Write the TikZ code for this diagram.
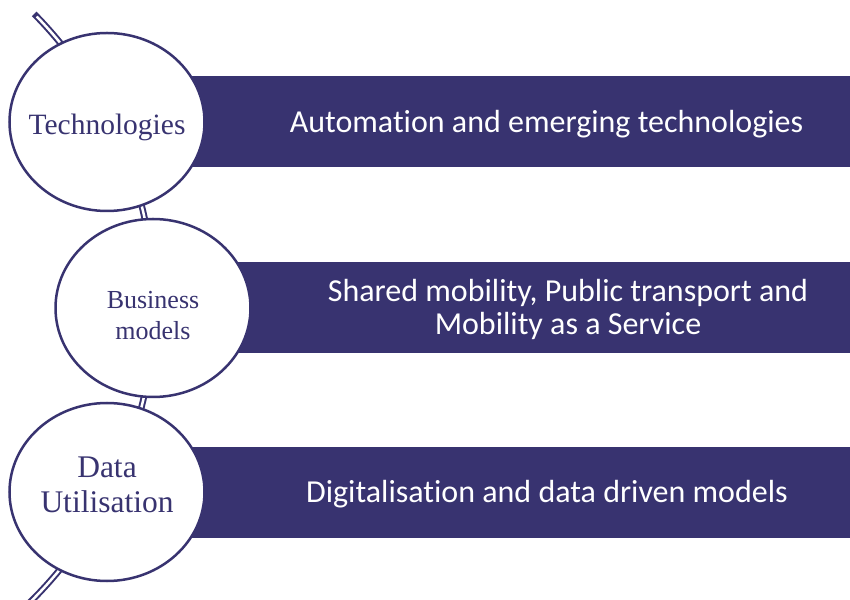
\documentclass[tikz,border=0pt]{standalone}
\usepackage{fontspec}
\setmainfont{Liberation Serif}
\newfontfamily\barfont[Ligatures=NoCommon]{Carlito}
\usetikzlibrary{shapes.geometric}
\definecolor{navy}{RGB}{56,51,112}

\begin{document}
\begin{tikzpicture}[x=1pt, y=1pt,
    topic/.style={draw=navy, line width=2.5pt, fill=white, ellipse, minimum width=195pt, minimum height=178pt, inner sep=0pt},
    topictext/.style={text=navy, align=center, inner sep=0pt},
    bar/.style={fill=navy, rectangle, minimum height=91pt, inner sep=0pt, anchor=west},
    bartext/.style={text=white, align=center, font=\barfont\fontsize{32}{33}\selectfont}]
        % Area del disegno
        \useasboundingbox (0,0) rectangle (850,599);
        \clip (0,0) rectangle (850,599);

        % Linea doppia di sfondo (arco)
        \coordinate (arcc) at (-262,293);
        \draw[navy, line width=6.5pt] (arcc) ++(44.6:416) arc[start angle=44.6, end angle=-48, radius=416];
        \draw[white, line width=2.5pt] (arcc) ++(44.1:416) arc[start angle=44.1, end angle=-48, radius=416];

        % Barre orizzontali
        \node[bar, minimum width=743pt] (bar1) at (107,477) {};
        \node[bar, minimum width=697pt] (bar2) at (153,291.5) {};
        \node[bar, minimum width=743pt] (bar3) at (107,106.5) {};

        % Cerchi con i temi
        \node[topic] (tech) at (107,477) {};
        \node[topic] (biz) at (153,291) {};
        \node[topic] (data) at (107,107) {};
        \node[topictext, font=\fontsize{29.5}{35}\selectfont] (techtxt) at ([yshift=-5pt]tech.center) {Technologies};
        \node[topictext, font=\fontsize{26}{31}\selectfont] (biztxt) at ([yshift=-8pt]biz.center) {Business\\models};
        \node[topictext, font=\fontsize{31.5}{35}\selectfont] (datatxt) at ([yshift=7pt]data.center) {Data\\Utilisation};

        % Testi delle barre
        \node[bartext] (txt1) at (546.5,475) {Automation and emerging technologies};
        \node[bartext] (txt2) at (568,290) {Shared mobility, Public transport and\\Mobility as a Service};
        \node[bartext] (txt3) at (547,104.5) {Digitalisation and data driven models};
    \end{tikzpicture}
\end{document}
